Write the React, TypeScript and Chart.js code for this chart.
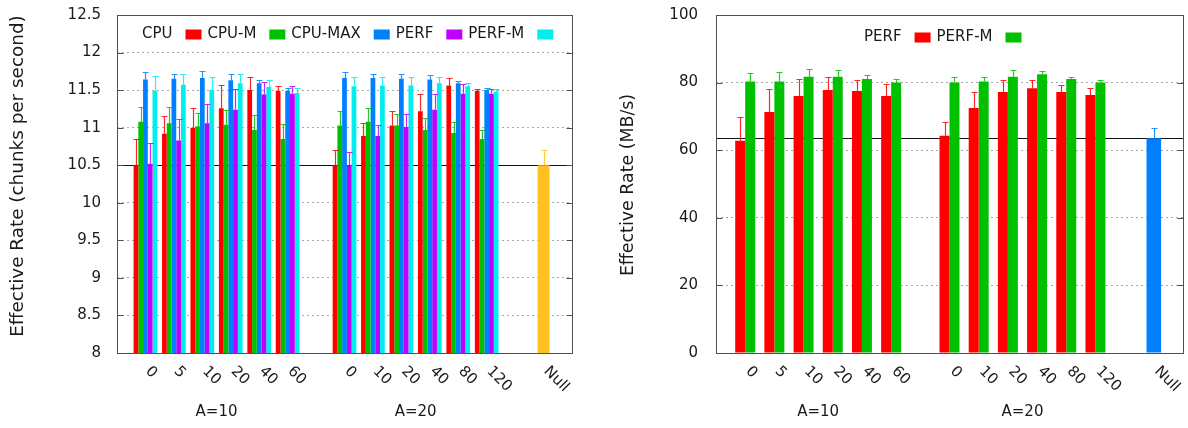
import React, { useEffect, useRef } from 'react';
import { Chart, registerables } from 'chart.js';

Chart.register(...registerables);

const FONT = '"DejaVu Sans", sans-serif';

// ---------- shared categories ----------
const categories = ['0', '5', '10', '20', '40', '60', '', '0', '10', '20', '40', '80', '120', '', 'Null'];
const groupTitles = ['A=10', 'A=20'];

// ---------- left chart (chunks per second) ----------
const cpuLegend = ['CPU', 'CPU-M', 'CPU-MAX', 'PERF', 'PERF-M'];
const cpu = [10.5, 10.92, 11.0, 11.26, 11.5, 11.49, null, 10.5, 10.89, 11.03, 11.22, 11.56, 11.49, null, null];
const cpuErr = [0.35, 0.24, 0.26, 0.31, 0.17, 0.06, null, 0.2, 0.17, 0.19, 0.23, 0.1, 0.02, null, null];
const cpuM = [11.08, 11.06, 11.02, 11.04, 10.97, 10.85, null, 11.03, 11.08, 11.03, 10.97, 10.93, 10.85, null, null];
const cpuMErr = [0.2, 0.22, 0.17, 0.2, 0.2, 0.2, null, 0.19, 0.18, 0.15, 0.16, 0.14, 0.12, null, null];
const cpuMax = [11.64, 11.65, 11.66, 11.63, 11.59, 11.49, null, 11.66, 11.66, 11.65, 11.64, 11.59, 11.5, null, null];
const cpuMaxErr = [0.1, 0.07, 0.09, 0.09, 0.05, 0.04, null, 0.08, 0.06, 0.07, 0.06, 0.03, 0.03, null, null];
const perfL = [10.52, 10.83, 11.06, 11.24, 11.44, 11.45, null, 10.5, 10.89, 11.01, 11.24, 11.45, 11.45, null, null];
const perfLErr = [0.27, 0.28, 0.26, 0.27, 0.17, 0.1, null, 0.18, 0.14, 0.17, 0.21, 0.13, 0.06, null, null];
const perfML = [11.49, 11.57, 11.5, 11.59, 11.54, 11.46, null, 11.55, 11.56, 11.56, 11.59, 11.55, 11.48, null, null];
const perfMLErr = [0.2, 0.14, 0.18, 0.12, 0.09, 0.07, null, 0.12, 0.11, 0.11, 0.08, 0.05, 0.03, null, null];
const cpuNullValue = 10.5;
const cpuNullErr = 0.2;

// ---------- right chart (MB/s) ----------
const perfLegend = ['PERF', 'PERF-M'];
const perfR = [62.8, 71.3, 76.0, 77.8, 77.5, 76.0, null, 64.3, 72.5, 77.2, 78.3, 77.2, 76.3, null, null];
const perfRErr = [7.1, 6.7, 5.0, 3.8, 3.2, 3.7, null, 4.1, 4.6, 3.5, 2.4, 2.1, 2.0, null, null];
const perfMR = [80.3, 80.3, 81.7, 81.7, 81.1, 80.0, null, 80.0, 80.3, 81.7, 82.5, 81.1, 80.0, null, null];
const perfMRErr = [2.4, 2.7, 2.4, 1.9, 1.1, 1.2, null, 1.6, 1.5, 1.9, 0.8, 0.7, 0.7, null, null];
const perfNullValue = 63.5;
const perfNullErr = 3.0;

const RED = '#ff0000';
const GREEN = '#00c000';
const BLUE = '#0080ff';
const PURPLE = '#c000ff';
const CYAN = '#00eeee';
const ORANGE = '#ffc020';
const TEXT = '#1a1a1a';

type Series = { label: string; color: string; data: (number | null)[]; err: (number | null)[] };

type Spec = {
  yMin: number; yMax: number; yStep: number; yTitle: string;
  titleX: number; titleY: number; titleSize: number;
  axisWidth: number; tickPad: number; padRight: number;
  series: Series[];
  nullColor: string; nullValue: number; nullErr: number;
  groupPct: number; nullPct: number;
  legendText: string[]; legendColors: string[]; legendDx: number; legendDy: number;
  labelShift: number; labelDy: number;
  groupPos: number[];
};

const pad = <T,>(a: T[]): (T | null)[] => [null, ...a, null];

function gpPlugin(spec: Spec) {
  return {
    id: 'gp',
    beforeDatasetsDraw(chart: any) {
      const { ctx, chartArea: a, scales } = chart;
      const y = scales.y;
      const py = Math.round(y.getPixelForValue(spec.nullValue)) + 0.5;
      ctx.save();
      ctx.strokeStyle = '#111';
      ctx.lineWidth = 1.2;
      ctx.beginPath();
      ctx.moveTo(a.left, py);
      ctx.lineTo(a.right, py);
      ctx.stroke();
      ctx.restore();
    },
    afterDatasetsDraw(chart: any) {
      const { ctx, chartArea: a, scales } = chart;
      const y = scales.y;
      const x = scales.x;
      ctx.save();
      // error bars
      chart.data.datasets.forEach((ds: any, di: number) => {
        const meta = chart.getDatasetMeta(di);
        meta.data.forEach((el: any, i: number) => {
          const v = ds.data[i];
          const e = ds.errs[i];
          if (v == null || e == null) return;
          const px = Math.round(el.x) + 0.5;
          const y0 = el.y;
          const y1 = Math.round(y.getPixelForValue(v + e)) + 0.5;
          ctx.strokeStyle = ds.backgroundColor;
          ctx.globalAlpha = 0.85;
          ctx.lineWidth = 1.2;
          ctx.beginPath();
          ctx.moveTo(px, y0);
          ctx.lineTo(px, y1);
          ctx.moveTo(px - 3, y1);
          ctx.lineTo(px + 3, y1);
          ctx.stroke();
        });
      });
      ctx.globalAlpha = 1;
      // frame
      ctx.strokeStyle = '#505050';
      ctx.lineWidth = 1;
      const L = Math.round(a.left) + 0.5, R = Math.round(a.right) + 0.5;
      const T = Math.round(a.top) + 0.5, B = Math.round(a.bottom) + 0.5;
      ctx.strokeRect(L, T, R - L, B - T);
      // inward ticks on both sides
      ctx.beginPath();
      y.ticks.forEach((t: any) => {
        const py = Math.round(y.getPixelForValue(t.value)) + 0.5;
        ctx.moveTo(L, py); ctx.lineTo(L + 6, py);
        ctx.moveTo(R, py); ctx.lineTo(R - 6, py);
      });
      ctx.stroke();
      // legend (text then box)
      ctx.font = `15px ${FONT}`;
      ctx.textBaseline = 'middle';
      ctx.textAlign = 'left';
      let lx = a.left + spec.legendDx;
      const ly = a.top + spec.legendDy;
      spec.legendText.forEach((t, i) => {
        ctx.fillStyle = TEXT;
        ctx.fillText(t, lx, ly);
        lx += ctx.measureText(t).width + 13;
        ctx.fillStyle = spec.legendColors[i];
        ctx.fillRect(lx, ly - 4.5, 16, 10);
        lx += 16 + 6;
      });
      // rotated x labels
      ctx.fillStyle = TEXT;
      categories.forEach((c, i) => {
        if (!c) return;
        const px = x.getPixelForValue(i + 1 + spec.labelShift);
        ctx.save();
        ctx.translate(px, a.bottom + spec.labelDy);
        ctx.rotate(Math.PI / 4);
        ctx.textAlign = 'left';
        ctx.textBaseline = 'middle';
        ctx.fillText(c, 0, 0);
        ctx.restore();
      });
      // group titles
      ctx.textAlign = 'center';
      ctx.textBaseline = 'middle';
      groupTitles.forEach((g, i) => {
        const px = x.getPixelForValue(spec.groupPos[i] + 1);
        ctx.fillText(g, px, a.bottom + 58.7);
      });
      // y axis title
      ctx.save();
      ctx.font = `${spec.titleSize}px ${FONT}`;
      ctx.translate(spec.titleX, spec.titleY);
      ctx.rotate(-Math.PI / 2);
      ctx.textAlign = 'center';
      ctx.textBaseline = 'middle';
      ctx.fillText(spec.yTitle, 0, 0);
      ctx.restore();
      ctx.restore();
    },
  };
}

function buildConfig(spec: Spec): any {
  const nullData = categories.map((_, i) => (i === categories.length - 1 ? spec.nullValue : null));
  const nullErrs = categories.map((_, i) => (i === categories.length - 1 ? spec.nullErr : null));
  const datasets: any[] = spec.series.map((s) => ({
    label: s.label,
    data: pad(s.data),
    errs: pad(s.err),
    backgroundColor: s.color,
    borderWidth: 0,
    categoryPercentage: spec.groupPct,
    barPercentage: 1,
  }));
  datasets.push({
    label: 'Null',
    data: pad(nullData),
    errs: pad(nullErrs),
    backgroundColor: spec.nullColor,
    borderWidth: 0,
    grouped: false,
    categoryPercentage: spec.nullPct,
    barPercentage: 1,
  });
  return {
    type: 'bar',
    data: { labels: pad(categories).map((c) => c ?? ''), datasets },
    options: {
      responsive: false,
      animation: false,
      devicePixelRatio: 1,
      layout: { padding: { left: 0, right: spec.padRight, top: 15, bottom: 75 } },
      plugins: { legend: { display: false }, tooltip: { enabled: false } },
      scales: {
        x: { type: 'category', display: false, offset: false, grid: { display: false } },
        y: {
          min: spec.yMin,
          max: spec.yMax,
          ticks: {
            stepSize: spec.yStep,
            font: { family: FONT, size: 15 },
            color: TEXT,
            padding: spec.tickPad,
            callback: (v: any) => String(+Number(v).toFixed(2)),
          },
          grid: {
            drawTicks: false,
            lineWidth: 1,
            color: (c: any) =>
              c.tick && (c.tick.value === spec.yMin || c.tick.value === spec.yMax) ? 'rgba(0,0,0,0)' : '#a8a8a8',
          },
          border: { display: false, dash: [2, 3] },
          title: { display: false },
          afterFit: (s: any) => {
            s.width = spec.axisWidth;
            s.paddingTop = 0;
            s.paddingBottom = 0;
          },
        },
      },
    },
    plugins: [gpPlugin(spec)],
  };
}

const leftSpec: Spec = {
  yMin: 8, yMax: 12.5, yStep: 0.5, yTitle: 'Effective Rate (chunks per second)',
  titleX: 18, titleY: 176, titleSize: 18.4,
  axisWidth: 117, tickPad: 16, padRight: 22,
  series: [
    { label: 'CPU', color: RED, data: cpu, err: cpuErr },
    { label: 'CPU-M', color: GREEN, data: cpuM, err: cpuMErr },
    { label: 'CPU-MAX', color: BLUE, data: cpuMax, err: cpuMaxErr },
    { label: 'PERF', color: PURPLE, data: perfL, err: perfLErr },
    { label: 'PERF-M', color: CYAN, data: perfML, err: perfMLErr },
  ],
  nullColor: ORANGE, nullValue: cpuNullValue, nullErr: cpuNullErr,
  groupPct: 0.833, nullPct: 0.42,
  legendText: cpuLegend, legendColors: [RED, GREEN, BLUE, PURPLE, CYAN], legendDx: 25, legendDy: 19,
  labelShift: 0.085, labelDy: 16,
  groupPos: [2.5, 9.5],
};

const rightSpec: Spec = {
  yMin: 0, yMax: 100, yStep: 20, yTitle: 'Effective Rate (MB/s)',
  titleX: 34, titleY: 185, titleSize: 17.4,
  axisWidth: 122, tickPad: 18, padRight: 5,
  series: [
    { label: 'PERF', color: RED, data: perfR, err: perfRErr },
    { label: 'PERF-M', color: GREEN, data: perfMR, err: perfMRErr },
  ],
  nullColor: BLUE, nullValue: perfNullValue, nullErr: perfNullErr,
  groupPct: 0.684, nullPct: 0.5,
  legendText: perfLegend, legendColors: [RED, GREEN], legendDx: 148, legendDy: 22,
  labelShift: 0.1, labelDy: 16,
  groupPos: [2.5, 9.5],
};

function ChartCanvas({ spec, left }: { spec: Spec; left: number }) {
  const ref = useRef<HTMLCanvasElement | null>(null);
  useEffect(() => {
    if (!ref.current) return;
    const chart = new Chart(ref.current, buildConfig(spec));
    return () => chart.destroy();
  }, [spec]);
  return (
    <canvas
      ref={ref}
      width={594}
      height={428}
      style={{ position: 'absolute', left, top: 0, width: 594, height: 428 }}
    />
  );
}

export default function App() {
  return (
    <div style={{ position: 'fixed', left: 0, top: 0, width: 1188, height: 428, background: '#fff' }}>
      <ChartCanvas spec={leftSpec} left={0} />
      <ChartCanvas spec={rightSpec} left={594} />
    </div>
  );
}
